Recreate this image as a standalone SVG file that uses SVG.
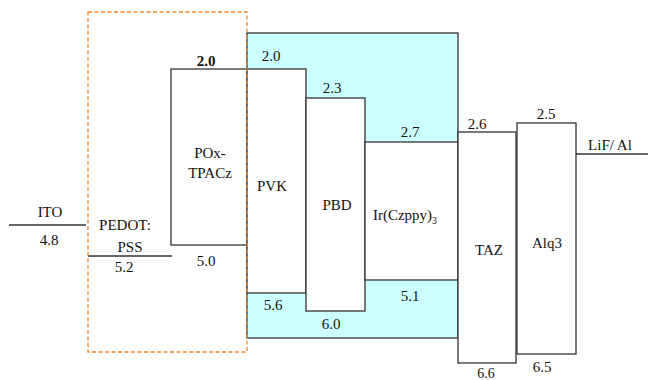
<svg xmlns="http://www.w3.org/2000/svg" width="648" height="380" viewBox="0 0 648 380">
<defs>
<rect id="bg" width="648" height="380" fill="#fff"/>
</defs>
<use href="#bg"/>
<g id="emissive-region">
<rect x="247" y="33" width="211" height="305" fill="#ccffff" stroke="#333" stroke-width="1.3"/>
</g>
<g font-family="Liberation Serif, serif" font-size="15" fill="#111" text-anchor="middle" stroke="#333" stroke-width="1.3">
<g id="ITO">
<line x1="9" y1="225" x2="86" y2="225"/>
<text x="50" y="217" stroke="none">ITO</text>
<text x="49" y="245" stroke="none">4.8</text>
</g>
<g id="PEDOT-PSS">
<line x1="88" y1="256" x2="172" y2="256"/>
<text x="125" y="230" stroke="none">PEDOT:</text>
<text x="130" y="252" stroke="none">PSS</text>
<text x="124" y="272" stroke="none">5.2</text>
</g>
<g id="POx-TPACz">
<rect x="171" y="69" width="76" height="176" fill="#fff"/>
<text x="210" y="158" stroke="none">POx-</text>
<text x="210" y="178" stroke="none">TPACz</text>
<text x="206" y="66" stroke="none" font-weight="bold">2.0</text>
<text x="206" y="266" stroke="none">5.0</text>
</g>
<g id="PVK">
<rect x="247" y="69" width="59" height="224" fill="#fff"/>
<text x="272" y="191" stroke="none">PVK</text>
<text x="271" y="61" stroke="none">2.0</text>
<text x="273" y="310" stroke="none">5.6</text>
</g>
<g id="PBD">
<rect x="306" y="98" width="59" height="213" fill="#fff"/>
<text x="337" y="210" stroke="none">PBD</text>
<text x="332" y="93" stroke="none">2.3</text>
<text x="331" y="329" stroke="none">6.0</text>
</g>
<g id="IrCzppy3">
<rect x="365" y="142" width="93" height="138" fill="#fff"/>
<text x="405" y="220" stroke="none">Ir(Czppy)<tspan font-size="10" dy="4">3</tspan></text>
<text x="410" y="137" stroke="none">2.7</text>
<text x="410" y="301" stroke="none">5.1</text>
</g>
<g id="TAZ">
<rect x="458" y="132" width="58" height="231" fill="#fff"/>
<text x="489" y="255" stroke="none">TAZ</text>
<text x="477" y="129" stroke="none">2.6</text>
<text x="486" y="378" stroke="none" font-size="14">6.6</text>
</g>
<g id="Alq3">
<rect x="517" y="123" width="59" height="231" fill="#fff"/>
<text x="547" y="248" stroke="none">Alq3</text>
<text x="546" y="119" stroke="none">2.5</text>
<text x="542" y="372" stroke="none">6.5</text>
</g>
<g id="LiF-Al">
<line x1="576" y1="154" x2="648" y2="154"/>
<text x="610" y="150" stroke="none">LiF/ Al</text>
</g>
</g>
<g id="connectors">
<rect x="88" y="12" width="159" height="340" fill="none" stroke="#f0862a" stroke-width="1.3" stroke-dasharray="4 2.5"/>
</g>
</svg>
